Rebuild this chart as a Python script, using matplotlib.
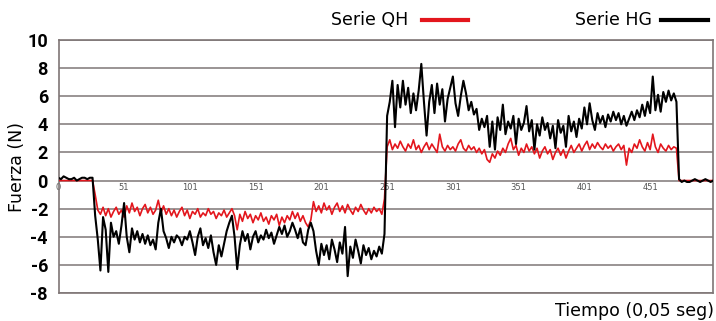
import numpy as np
import matplotlib
matplotlib.use("Agg")
import matplotlib.pyplot as plt
from matplotlib.lines import Line2D

# muestras cada 2 registros (1, 3, 5, ... 499)
muestra = np.arange(1, 500, 2)

# Serie HG (negro)
serie_hg = [
    0.2, 0.1, 0.3, 0.2, 0.1, 0.1, 0.2, 0.0, 0.1, 0.2,
    0.2, 0.1, 0.2, 0.2, -2.5, -4.2, -6.4, -2.6, -3.5, -6.5,
    -3.0, -4.0, -3.6, -4.5, -3.2, -1.6, -4.0, -5.1, -3.4, -4.2,
    -3.6, -4.4, -3.8, -4.5, -3.9, -4.6, -4.2, -4.9, -3.0, -2.0,
    -3.6, -4.1, -4.8, -4.0, -4.4, -3.9, -4.1, -4.6, -4.0, -4.2,
    -3.6, -4.4, -5.3, -4.0, -3.4, -4.6, -4.1, -4.8, -3.9, -5.1,
    -6.0, -4.6, -5.4, -4.5, -3.6, -3.0, -2.5, -4.0, -6.3, -4.6,
    -3.6, -4.3, -3.8, -4.9, -4.0, -3.6, -4.4, -3.9, -4.2, -3.5,
    -4.1, -3.7, -4.5, -3.9, -3.3, -3.8, -3.2, -4.0, -3.6, -3.0,
    -3.5, -4.1, -3.4, -4.4, -4.6, -3.5, -3.0, -3.6, -5.0, -6.0,
    -4.5, -5.3, -4.6, -5.6, -4.2, -4.9, -5.8, -4.4, -5.2, -3.3,
    -6.8, -4.7, -5.5, -4.2, -5.0, -5.9, -4.6, -5.3, -4.8, -5.6,
    -5.0, -5.4, -4.7, -5.2, -3.8, 4.6, 5.6, 7.1, 3.8, 6.8,
    5.2, 7.1, 5.4, 6.6, 4.8, 6.2, 5.0, 6.4, 8.3, 5.6,
    3.2, 5.6, 6.8, 4.8, 6.9, 5.4, 6.5, 4.2, 5.8, 6.6,
    7.4, 5.5, 4.6, 6.0, 7.1, 6.2, 5.0, 5.6, 4.7, 5.1,
    3.6, 4.4, 3.8, 4.6, 2.4, 4.2, 2.2, 4.5, 3.6, 5.4,
    3.3, 4.2, 3.7, 4.6, 2.6, 4.4, 3.6, 4.1, 5.3, 3.5,
    4.3, 2.2, 4.0, 3.2, 4.5, 3.6, 4.1, 3.0, 3.9, 2.3,
    4.3, 3.4, 3.9, 2.4, 4.6, 3.5, 4.2, 3.1, 4.4, 3.7,
    5.2, 4.0, 5.5, 4.3, 3.6, 4.8, 4.1, 4.6, 3.8, 4.7,
    4.2, 4.9, 4.3, 4.8, 4.0, 4.6, 3.9, 4.4, 4.9, 4.3,
    5.0, 4.5, 5.4, 4.6, 5.6, 4.8, 7.4, 5.0, 6.1, 4.9,
    6.3, 5.6, 6.4, 5.7, 6.2, 5.6, 0.1, -0.1, 0.0, -0.1,
    -0.1, 0.0, 0.1, 0.0, -0.1, 0.0, 0.1, 0.0, -0.1, 0.0,
]

# Serie QH (rojo)
serie_qh = [
    0.0, 0.0, 0.0, 0.0, 0.0, 0.0, 0.0, 0.0, 0.0, 0.0,
    0.0, 0.0, 0.0, 0.0, -1.0, -2.1, -2.4, -1.9, -2.5, -2.0,
    -2.6, -2.2, -1.9, -2.4, -2.1, -2.6, -1.8, -2.3, -1.6, -2.2,
    -1.9, -2.5, -2.0, -1.7, -2.3, -1.9, -2.4, -2.1, -1.4, -2.3,
    -1.8, -2.4, -2.0, -2.5, -2.1, -2.6, -2.2, -1.9, -2.5, -2.1,
    -2.7, -2.2, -2.4, -2.0, -2.6, -2.3, -2.5, -2.0, -2.4, -2.2,
    -2.7, -2.3, -2.5, -2.1, -2.6, -2.3, -2.0, -2.5, -3.5, -2.4,
    -2.9, -2.2, -2.7, -2.4, -3.0, -2.5, -2.8, -2.3, -2.9, -2.6,
    -3.1, -2.5, -2.8, -2.4, -3.2, -2.6, -3.0, -2.5, -2.8, -2.2,
    -2.7, -2.3, -2.9, -2.5, -3.0, -3.3, -2.8, -1.5, -2.2, -1.8,
    -2.3, -1.6, -2.1, -1.8, -2.4, -1.9, -1.6, -2.2, -1.8, -2.3,
    -1.7, -2.1, -2.4, -1.9, -2.2, -1.7, -2.1, -2.4, -2.0, -2.3,
    -1.9, -2.2, -2.0, -2.4, -1.3, 2.4, 2.9, 2.2, 2.6, 2.3,
    2.8, 2.4, 2.1, 2.6, 2.3, 2.9, 2.2, 2.5, 2.0, 2.4,
    2.7, 2.2, 2.6, 2.3, 2.0, 3.3, 2.4, 2.1, 2.5, 2.2,
    2.4, 2.1, 2.6, 2.9, 2.3, 2.1, 2.5, 2.2, 2.4, 2.0,
    2.3, 1.9, 2.2, 1.5, 1.3, 1.9, 1.6, 2.1, 1.8, 2.3,
    2.0, 2.6, 3.0, 2.2, 2.5, 1.8, 2.3, 2.0, 2.6, 2.1,
    2.4, 1.9, 2.3, 1.6, 2.1, 2.4, 1.9, 2.2, 1.5, 2.0,
    2.3, 1.8, 2.2, 1.6, 2.1, 2.5, 2.0, 2.3, 2.6, 2.1,
    2.5, 2.8, 2.2, 2.6, 2.3, 2.7, 2.4, 2.2, 2.6, 2.3,
    2.5, 2.1, 2.4, 2.6, 2.2, 2.5, 1.1, 2.3, 2.0, 2.6,
    2.3, 2.9, 2.4, 2.1, 2.7, 2.2, 3.3, 2.4, 2.0, 2.6,
    2.3, 2.1, 2.5, 2.2, 2.4, 2.3, 0.0, 0.0, 0.0, 0.0,
    0.0, 0.0, 0.0, 0.0, 0.0, 0.0, 0.0, 0.0, 0.0, 0.0,
]

ticks_x = [1, 51, 101, 151, 201, 251, 301, 351, 401, 451]
etiquetas_x = ["0", "51", "101", "151", "201", "251", "301", "351", "401", "451"]
ticks_y = list(range(-8, 11, 2))

ROJO = "#e3161d"
GRIS = "#7f7676"

fig = plt.figure(figsize=(7.16, 3.21), dpi=100)
ax = fig.add_axes([59 / 716, 28 / 321, 654 / 716, 253 / 321])

ax.plot(muestra, serie_qh, color=ROJO, lw=1.2, zorder=3)
ax.plot(muestra, serie_hg, color="black", lw=1.5, zorder=4)

ax.set_xlim(1.5, 498.8)
ax.set_ylim(-8, 10)
ax.set_xticks([])
ax.set_yticks(ticks_y)
ax.set_yticklabels([str(v) for v in ticks_y], family="Roboto",
                   fontweight="bold", fontsize=13)
ax.tick_params(axis="y", length=0, pad=8)
ax.grid(axis="y", color=GRIS, lw=1.1, zorder=1)
for sp in ax.spines.values():
    sp.set_color(GRIS)
    sp.set_linewidth(1.2)

# etiquetas de categoria sobre la linea del cero
for t, lab in zip(ticks_x, etiquetas_x):
    ax.text(t, -0.5, lab, ha="center", va="center", fontsize=6,
            color="#555555", zorder=2)

ax.set_ylabel("Fuerza (N)", fontsize=12.5)
ax.yaxis.set_label_coords((26 - 59) / 654, 0.5)
fig.text(714 / 716, 1 - 311 / 321, "Tiempo (0,05 seg)", fontsize=12.5,
         ha="right", va="center")

# leyenda arriba
yl = 1 - 20 / 321
fig.text(408 / 716, yl, "Serie QH", fontsize=12.5, ha="right", va="center")
fig.add_artist(Line2D([422 / 716, 468 / 716], [yl, yl], color=ROJO, lw=3,
                      transform=fig.transFigure))
fig.text(652 / 716, yl, "Serie HG", fontsize=12.5, ha="right", va="center")
fig.add_artist(Line2D([661 / 716, 708 / 716], [yl, yl], color="black", lw=3,
                      transform=fig.transFigure))

fig.savefig("out.png", dpi=100)
